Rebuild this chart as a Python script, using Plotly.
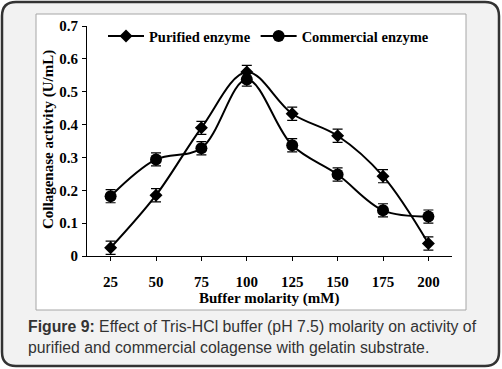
import plotly.graph_objects as go

molarity = [25, 50, 75, 100, 125, 150, 175, 200]
purified = [0.025, 0.185, 0.39, 0.56, 0.433, 0.366, 0.243, 0.038]
commercial = [0.182, 0.294, 0.328, 0.537, 0.337, 0.248, 0.139, 0.12]
purified_err = [0.02, 0.02, 0.02, 0.02, 0.02, 0.02, 0.02, 0.02]
commercial_err = [0.02, 0.02, 0.02, 0.02, 0.02, 0.02, 0.02, 0.02]
yticks = [0, 0.1, 0.2, 0.3, 0.4, 0.5, 0.6, 0.7]

W, H = 502, 369
L, R, T, B = 87, 50, 26, 113
PW, PH = W - L - R, H - T - B

def px(x):
    return (x - L) / PW

def py(y):
    return 1 - (y - T) / PH

serif = "Liberation Serif, Times New Roman, serif"

fig = go.Figure()
fig.add_trace(go.Scatter(
    x=molarity, y=purified, name="Purified enzyme", mode="lines+markers",
    line=dict(color="black", width=2, shape="spline", smoothing=1.0),
    marker=dict(symbol="diamond", size=10, color="black"),
    error_y=dict(type="data", array=purified_err, color="black", thickness=1.2, width=5),
))
fig.add_trace(go.Scatter(
    x=molarity, y=commercial, name="Commercial enzyme", mode="lines+markers",
    line=dict(color="black", width=2, shape="spline", smoothing=1.0),
    marker=dict(symbol="circle", size=12, color="black"),
    error_y=dict(type="data", array=commercial_err, color="black", thickness=1.2, width=5),
))

# outer rounded box
x0, y0, x1, y1, r = 2, 2, 499, 366, 14
path = (f"M {px(x0+r)},{py(y0)} L {px(x1-r)},{py(y0)} Q {px(x1)},{py(y0)} {px(x1)},{py(y0+r)} "
        f"L {px(x1)},{py(y1-r)} Q {px(x1)},{py(y1)} {px(x1-r)},{py(y1)} "
        f"L {px(x0+r)},{py(y1)} Q {px(x0)},{py(y1)} {px(x0)},{py(y1-r)} "
        f"L {px(x0)},{py(y0+r)} Q {px(x0)},{py(y0)} {px(x0+r)},{py(y0)} Z")
shapes = [
    dict(type="path", path=path, xref="paper", yref="paper", fillcolor="#f2f2f2",
         line=dict(color="#333333", width=2.5), layer="below"),
    dict(type="rect", xref="paper", yref="paper", x0=px(36), x1=px(466), y0=py(14), y1=py(310),
         fillcolor="white", line=dict(color="#a6a6a6", width=1), layer="below"),
]

annotations = [
    dict(text="Collagenase activity (U/mL)", xref="paper", yref="paper", x=px(48), y=py(140),
         textangle=-90, showarrow=False, font=dict(family=serif, size=15, color="black", weight="bold"),
         xanchor="center", yanchor="middle"),
    dict(text="Buffer molarity (mM)", xref="paper", yref="paper", x=px(269), y=py(298),
         showarrow=False, font=dict(family=serif, size=15, color="black", weight="bold"),
         xanchor="center", yanchor="middle"),
    dict(text="<b>Figure 9:</b> Effect of Tris-HCl buffer (pH 7.5) molarity on activity of<br>purified and commercial colagense with gelatin substrate.",
         xref="paper", yref="paper", x=px(26), y=py(316), xanchor="left", yanchor="top",
         align="left", showarrow=False,
         font=dict(family="Liberation Sans, Arial, sans-serif", size=15.8, color="#333333")),
]

fig.update_layout(
    width=W, height=H,
    margin=dict(l=L, r=R, t=T, b=B),
    paper_bgcolor="white", plot_bgcolor="white",
    shapes=shapes, annotations=annotations,
    showlegend=True,
    legend=dict(orientation="h", x=px(103), y=py(20), xanchor="left", yanchor="top",
                bgcolor="rgba(0,0,0,0)",
                font=dict(family=serif, size=14.5, color="black", weight="bold"),
                itemwidth=36),
    xaxis=dict(range=[12, 213], tickvals=molarity, ticks="outside", ticklen=4,
               tickcolor="black", showline=True, linecolor="black", linewidth=1,
               showgrid=False, zeroline=False, ticklabelstandoff=8,
               tickfont=dict(family=serif, size=15, color="black", weight="bold")),
    yaxis=dict(range=[0, 0.7], tickvals=yticks, ticks="outside", ticklen=4,
               tickcolor="black", showline=True, linecolor="black", linewidth=1,
               showgrid=False, zeroline=False, ticklabelstandoff=1,
               tickfont=dict(family=serif, size=15, color="black", weight="bold")),
)

fig.write_html("out.html", config={"displayModeBar": False},
               post_script="document.body.style.margin='0';document.body.style.overflow='hidden';")
